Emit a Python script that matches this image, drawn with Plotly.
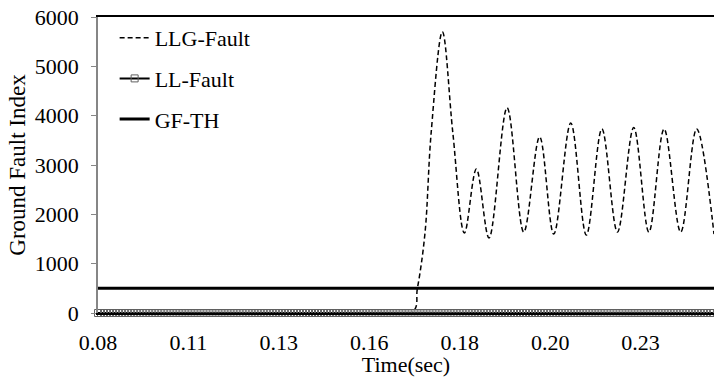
import numpy as np
import plotly.graph_objects as go

# ---- data ----
llg_time = [0.080, 0.1667, 0.1683, 0.1704, 0.1721, 0.1752, 0.1781, 0.1813, 0.1846, 0.1881,
            0.1931, 0.1977, 0.2021, 0.2060, 0.2107, 0.2150, 0.2193, 0.2236, 0.2281,
            0.2323, 0.2365, 0.2411, 0.2455, 0.2503]
llg_values = [0, 0, 500, 1620, 3650, 5700, 3650, 1620, 2920, 1520,
              4160, 1640, 3570, 1600, 3850, 1580, 3730, 1640, 3760,
              1640, 3730, 1640, 3730, 1600]

ll_time = list(np.round(np.arange(0.080, 0.2504, 1 / 1200), 5))
ll_values = [0] * len(ll_time)

th_time = [0.080, 0.2503]
th_values = [500, 500]

tick_vals = [0.080, 0.105, 0.130, 0.155, 0.180, 0.205, 0.230]
tick_text = ["0.08", "0.11", "0.13", "0.16", "0.18", "0.20", "0.23"]

FONT = "Liberation Serif, Times New Roman, serif"
TF = dict(family=FONT, size=22, color="black")

fig = go.Figure()
fig.add_trace(go.Scatter(
    x=llg_time, y=llg_values, name="LLG-Fault", mode="lines",
    line=dict(color="black", width=1.5, dash="5px,3px", shape="spline", smoothing=1.0),
    legendgroup="a", cliponaxis=False))
fig.add_trace(go.Scatter(
    x=ll_time, y=ll_values, name="LL-Fault", mode="lines+markers",
    line=dict(color="black", width=2),
    marker=dict(symbol="square-open", size=7, color="#606060", line=dict(width=1)),
    legendgroup="b", cliponaxis=False))
fig.add_trace(go.Scatter(
    x=th_time, y=th_values, name="GF-TH", mode="lines",
    line=dict(color="black", width=3),
    legendgroup="c", cliponaxis=False))

fig.update_layout(
    width=714, height=377,
    margin=dict(l=98, r=0, t=17, b=64),
    paper_bgcolor="white", plot_bgcolor="white",
    font=TF,
    showlegend=True,
    legend=dict(x=0.027, y=1.0, xanchor="left", yanchor="top",
                bgcolor="rgba(0,0,0,0)", tracegroupgap=9,
                font=TF),
    xaxis=dict(range=[0.080, 0.2503], tickvals=tick_vals, ticktext=tick_text,
               tickfont=TF, ticklabelstandoff=9,
               showgrid=False, zeroline=False, showline=True, linecolor="black",
               linewidth=1.5, mirror=True, ticks="",
               title=dict(text="Time(sec)", standoff=0, font=TF)),
    yaxis=dict(range=[0, 6000], tickvals=[0, 1000, 2000, 3000, 4000, 5000, 6000],
               tickfont=TF, ticklabelstandoff=8,
               showgrid=False, zeroline=False, showline=True, linecolor="#868686",
               linewidth=1.5, ticks="outside", ticklen=5, tickcolor="#868686",
               title=dict(text="Ground Fault Index", standoff=3,
                          font=dict(family=FONT, size=23, color="black"))),
)

fig.write_html("out.html")
